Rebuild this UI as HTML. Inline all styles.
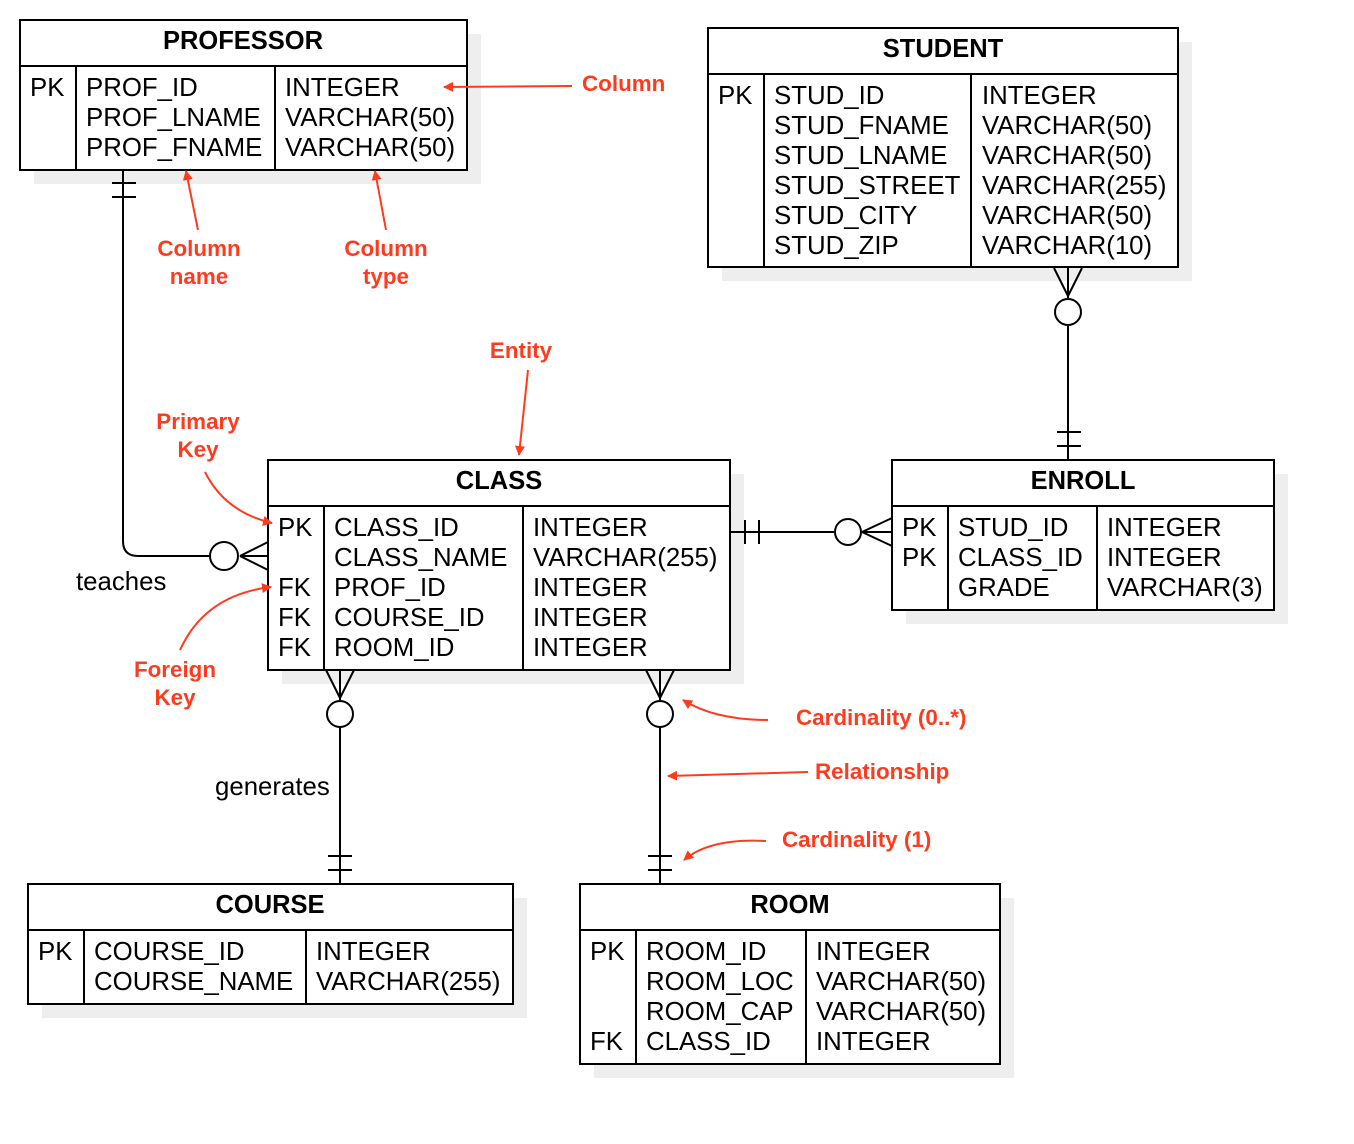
<!DOCTYPE html>
<html><head><meta charset="utf-8"><style>
html,body{margin:0;padding:0;background:#fff}
svg{display:block}
text{font-family:"Liberation Sans",Arial,sans-serif}
.t{font-size:25.8px;fill:#000}
.h{font-size:25.5px;font-weight:bold;fill:#000}
.r{font-size:22.4px;font-weight:bold;fill:#ff3b1f}
.b{fill:#fff;stroke:#000;stroke-width:2}
.s{fill:#eeeeee}
.l{stroke:#000;stroke-width:2;fill:none}
.a{stroke:#ff3b1f;stroke-width:2;fill:none}
</style></head><body>
<svg width="1354" height="1144" viewBox="0 0 1354 1144" xmlns="http://www.w3.org/2000/svg">
<defs><marker id="ar" markerWidth="10" markerHeight="10" refX="9" refY="5" orient="auto" markerUnits="userSpaceOnUse"><path d="M0,0 L10,5 L0,10 Z" fill="#ff3b1f"/></marker></defs>
<!-- shadows -->
<rect class="s" x="34" y="34" width="447" height="150"/>
<rect class="s" x="722" y="42" width="470" height="239"/>
<rect class="s" x="282" y="474" width="462" height="210"/>
<rect class="s" x="906" y="474" width="382" height="150"/>
<rect class="s" x="42" y="898" width="485" height="120"/>
<rect class="s" x="594" y="898" width="420" height="180"/>
<!-- PROFESSOR -->
<rect class="b" x="20" y="20" width="447" height="150"/>
<path class="l" d="M20 66H467M76 66V170M275 66V170"/>
<text class="h" x="243" y="49" text-anchor="middle">PROFESSOR</text>
<text class="t" x="30" y="96">PK</text>
<text class="t" x="86" y="96">PROF_ID</text><text class="t" x="86" y="126">PROF_LNAME</text><text class="t" x="86" y="156">PROF_FNAME</text>
<text class="t" x="285" y="96">INTEGER</text><text class="t" x="285" y="126">VARCHAR(50)</text><text class="t" x="285" y="156">VARCHAR(50)</text>
<!-- STUDENT -->
<rect class="b" x="708" y="28" width="470" height="239"/>
<path class="l" d="M708 74H1178M764 74V267M971 74V267"/>
<text class="h" x="943" y="57" text-anchor="middle">STUDENT</text>
<text class="t" x="718" y="104">PK</text>
<text class="t" x="774" y="104">STUD_ID</text><text class="t" x="774" y="134">STUD_FNAME</text><text class="t" x="774" y="164">STUD_LNAME</text><text class="t" x="774" y="194">STUD_STREET</text><text class="t" x="774" y="224">STUD_CITY</text><text class="t" x="774" y="254">STUD_ZIP</text>
<text class="t" x="982" y="104">INTEGER</text><text class="t" x="982" y="134">VARCHAR(50)</text><text class="t" x="982" y="164">VARCHAR(50)</text><text class="t" x="982" y="194">VARCHAR(255)</text><text class="t" x="982" y="224">VARCHAR(50)</text><text class="t" x="982" y="254">VARCHAR(10)</text>
<!-- CLASS -->
<rect class="b" x="268" y="460" width="462" height="210"/>
<path class="l" d="M268 506H730M324 506V670M523 506V670"/>
<text class="h" x="499" y="489" text-anchor="middle">CLASS</text>
<text class="t" x="278" y="536">PK</text><text class="t" x="278" y="596">FK</text><text class="t" x="278" y="626">FK</text><text class="t" x="278" y="656">FK</text>
<text class="t" x="334" y="536">CLASS_ID</text><text class="t" x="334" y="566">CLASS_NAME</text><text class="t" x="334" y="596">PROF_ID</text><text class="t" x="334" y="626">COURSE_ID</text><text class="t" x="334" y="656">ROOM_ID</text>
<text class="t" x="533" y="536">INTEGER</text><text class="t" x="533" y="566">VARCHAR(255)</text><text class="t" x="533" y="596">INTEGER</text><text class="t" x="533" y="626">INTEGER</text><text class="t" x="533" y="656">INTEGER</text>
<!-- ENROLL -->
<rect class="b" x="892" y="460" width="382" height="150"/>
<path class="l" d="M892 506H1274M948 506V610M1097 506V610"/>
<text class="h" x="1083" y="489" text-anchor="middle">ENROLL</text>
<text class="t" x="902" y="536">PK</text><text class="t" x="902" y="566">PK</text>
<text class="t" x="958" y="536">STUD_ID</text><text class="t" x="958" y="566">CLASS_ID</text><text class="t" x="958" y="596">GRADE</text>
<text class="t" x="1107" y="536">INTEGER</text><text class="t" x="1107" y="566">INTEGER</text><text class="t" x="1107" y="596">VARCHAR(3)</text>
<!-- COURSE -->
<rect class="b" x="28" y="884" width="485" height="120"/>
<path class="l" d="M28 930H513M84 930V1004M306 930V1004"/>
<text class="h" x="270" y="913" text-anchor="middle">COURSE</text>
<text class="t" x="38" y="960">PK</text>
<text class="t" x="94" y="960">COURSE_ID</text><text class="t" x="94" y="990">COURSE_NAME</text>
<text class="t" x="316" y="960">INTEGER</text><text class="t" x="316" y="990">VARCHAR(255)</text>
<!-- ROOM -->
<rect class="b" x="580" y="884" width="420" height="180"/>
<path class="l" d="M580 930H1000M636 930V1064M806 930V1064"/>
<text class="h" x="790" y="913" text-anchor="middle">ROOM</text>
<text class="t" x="590" y="960">PK</text><text class="t" x="590" y="1050">FK</text>
<text class="t" x="646" y="960">ROOM_ID</text><text class="t" x="646" y="990">ROOM_LOC</text><text class="t" x="646" y="1020">ROOM_CAP</text><text class="t" x="646" y="1050">CLASS_ID</text>
<text class="t" x="816" y="960">INTEGER</text><text class="t" x="816" y="990">VARCHAR(50)</text><text class="t" x="816" y="1020">VARCHAR(50)</text><text class="t" x="816" y="1050">INTEGER</text>
<!-- connectors -->
<path class="l" d="M123 170V541Q123 556 138 556H209M112 183H136M112 197H136M240 556L268 542M240 556H268M240 556L268 570"/>
<circle class="b" cx="224" cy="556" r="14"/>
<path class="l" d="M1068 268V298M1068 326V460M1057 432H1081M1057 446H1081M1068 296L1054 268M1068 296L1082 268"/>
<circle class="b" cx="1068" cy="312" r="13"/>
<path class="l" d="M730 532H834M745 520V544M759 520V544M862 532H892M862 532L892 518M862 532L892 546"/>
<circle class="b" cx="848" cy="532" r="13"/>
<path class="l" d="M340 670V700M340 728V884M328 856H352M328 870H352M340 698L326 670M340 698L354 670"/>
<circle class="b" cx="340" cy="714" r="13"/>
<path class="l" d="M660 670V700M660 728V884M648 856H672M648 870H672M660 698L646 670M660 698L674 670"/>
<circle class="b" cx="660" cy="714" r="13"/>
<text class="t" x="76" y="590">teaches</text>
<text class="t" x="215" y="795">generates</text>
<!-- annotations -->
<path class="a" marker-end="url(#ar)" d="M572 86L444 87"/>
<text class="r" x="582" y="91">Column</text>
<path class="a" marker-end="url(#ar)" d="M198 230L186 171"/>
<text class="r" x="199" y="256" text-anchor="middle">Column</text><text class="r" x="199" y="284" text-anchor="middle">name</text>
<path class="a" marker-end="url(#ar)" d="M386 230L375 171"/>
<text class="r" x="386" y="256" text-anchor="middle">Column</text><text class="r" x="386" y="284" text-anchor="middle">type</text>
<text class="r" x="521" y="358" text-anchor="middle">Entity</text>
<path class="a" marker-end="url(#ar)" d="M528 370L519 455"/>
<text class="r" x="198" y="429" text-anchor="middle">Primary</text><text class="r" x="198" y="457" text-anchor="middle">Key</text>
<path class="a" marker-end="url(#ar)" d="M205 472Q225 512 272 523"/>
<path class="a" marker-end="url(#ar)" d="M180 650Q205 595 271 587"/>
<text class="r" x="175" y="677" text-anchor="middle">Foreign</text><text class="r" x="175" y="705" text-anchor="middle">Key</text>
<path class="a" marker-end="url(#ar)" d="M768 720Q715 720 683 700"/>
<text class="r" x="796" y="725">Cardinality (0..*)</text>
<path class="a" marker-end="url(#ar)" d="M808 772L668 776"/>
<text class="r" x="815" y="779">Relationship</text>
<path class="a" marker-end="url(#ar)" d="M766 841Q710 838 684 860"/>
<text class="r" x="782" y="847">Cardinality (1)</text>
</svg>
</body></html>
